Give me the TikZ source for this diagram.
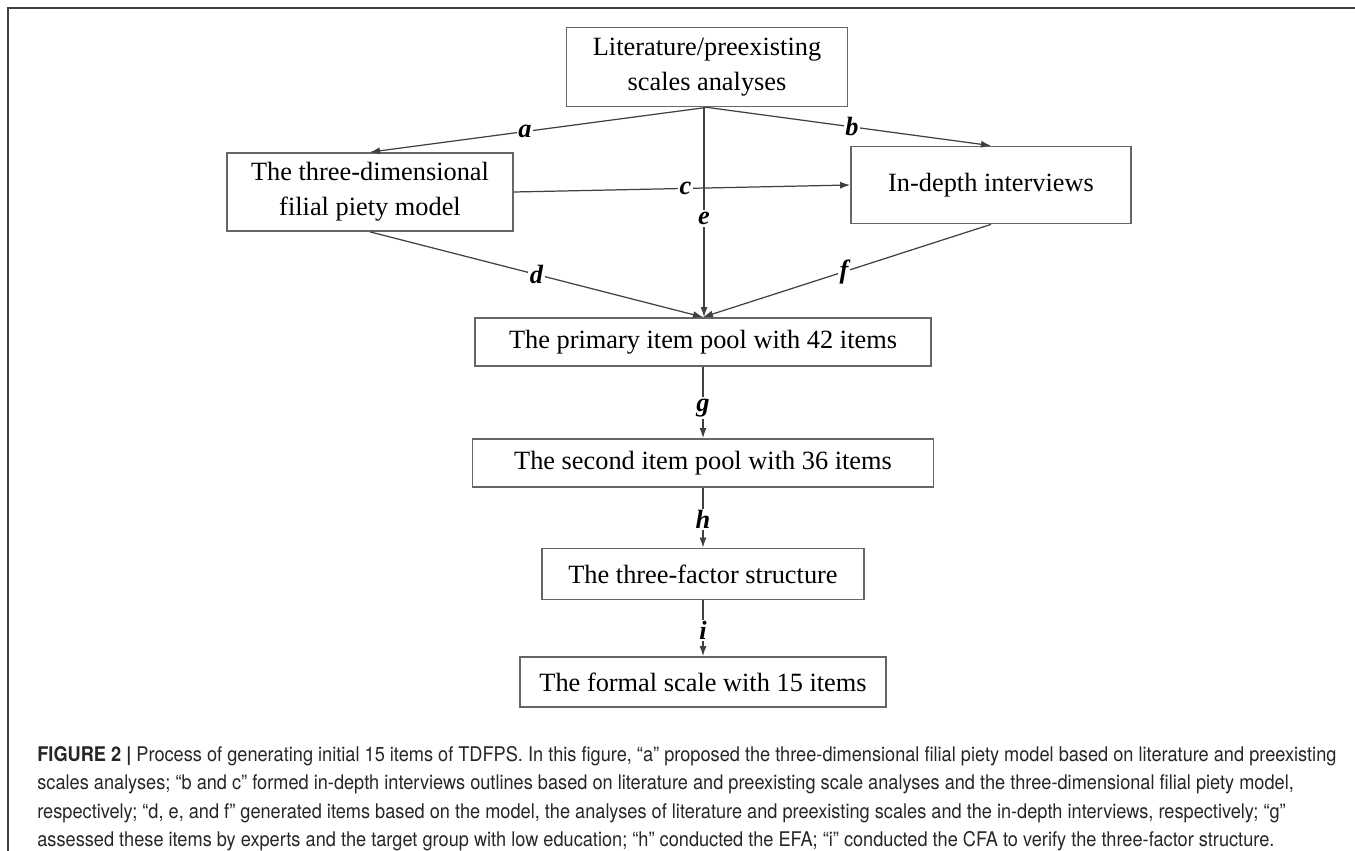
\documentclass[tikz,border=0pt]{standalone}
\usepackage{fontspec}
\setmainfont{Liberation Serif}
\newfontfamily\capfont[FakeStretch=0.9]{TeX Gyre Heros}
\usetikzlibrary{arrows.meta}

\begin{document}
\begin{tikzpicture}[x=0.02cm,y=-0.02cm,
    box/.style={draw=black!60,line width=1pt,inner sep=0pt,align=center,font=\fontsize{15}{20}\selectfont},
    lab/.style={fill=white,inner sep=1pt,font=\fontsize{15}{18}\selectfont\bfseries\itshape},
    arr/.style={draw=black!75,line width=0.7pt,-{Latex[length=2mm,width=1.4mm]}}]
        \useasboundingbox (0,0) rectangle (1355,851);
        \draw[black!75,line width=1.2pt] (8,851) -- (8,8) -- (1355,8);
        % boxes
        \node[box,minimum width=5.62cm,minimum height=1.58cm] at (707,67) (lit) {Literature/preexisting\\scales analyses};
        \node[box,minimum width=5.72cm,minimum height=1.56cm] at (370,192) (model) {The three-dimensional\\filial piety model};
        \node[box,minimum width=5.6cm,minimum height=1.54cm] at (991,185) (interv) {In-depth interviews};
        \node[box,minimum width=9.12cm,minimum height=0.96cm] at (703,342) (pool1) {The primary item pool with 42 items};
        \node[box,minimum width=9.22cm,minimum height=0.96cm] at (703,463) (pool2) {The second item pool with 36 items};
        \node[box,minimum width=6.44cm,minimum height=1.02cm] at (703,574) (factor) {The three-factor structure};
        \node[box,minimum width=7.32cm,minimum height=1.0cm] at (703,682) (formal) {The formal scale with 15 items};
        % connectors
        \draw[arr] (lit.south) -- node[lab,pos=0.54] {a} (model.north);
        \draw[arr] (lit.south) -- node[lab,pos=0.51] {b} (interv.north);
        \draw[arr] (model.east) -- node[lab,pos=0.51] {c} (interv.west);
        \draw[arr] (model.south) -- node[lab] {d} (pool1.north);
        \draw[arr] ([xshift=-1.7pt]lit.south) -- node[lab,pos=0.53] {e} ([xshift=-1.7pt]lit.south |- pool1.north);
        \draw[arr] (interv.south) -- node[lab,pos=0.51] {f} (pool1.north);
        \draw[arr] (pool1.south) -- node[lab,pos=0.58] {g} (pool2.north);
        \draw[arr] (pool2.south) -- node[lab,pos=0.53] {h} (factor.north);
        \draw[arr] (factor.south) -- node[lab,pos=0.54] {i} (formal.north);
        % caption
        \node[anchor=north west,align=left,inner sep=0pt,text=black!85,
              font=\capfont\fontsize{11.5}{16.2}\selectfont] at (37,746) (cap)
            {\textbf{FIGURE 2 |} Process of generating initial 15 items of TDFPS. In this figure, “a” proposed the three-dimensional filial piety model based on literature and preexisting\\
             scales analyses; “b and c” formed in-depth interviews outlines based on literature and preexisting scale analyses and the three-dimensional filial piety model,\\
             respectively; “d, e, and f” generated items based on the model, the analyses of literature and preexisting scales and the in-depth interviews, respectively; “g”\\
             assessed these items by experts and the target group with low education; “h” conducted the EFA; “i” conducted the CFA to verify the three-factor structure.};
\end{tikzpicture}
\end{document}
